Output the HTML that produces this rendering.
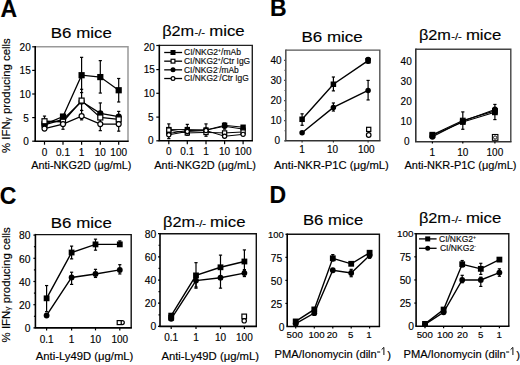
<!DOCTYPE html>
<html><head><meta charset="utf-8"><style>
html,body{margin:0;padding:0;background:#fff;}
body{width:520px;height:365px;overflow:hidden;}
svg{display:block;}
text{font-family:"Liberation Sans", sans-serif;stroke:#000;stroke-width:0.15px;}
</style></head><body>
<svg width="520" height="365" viewBox="0 0 520 365" font-family='"Liberation Sans", sans-serif' fill="#000">
<rect width="520" height="365" fill="#fff"/>
<text transform="translate(0.6,16.9) scale(1,1)" font-size="23" font-weight="bold">A</text>
<text x="270.0" y="15.8" font-size="23" text-anchor="start" font-weight="bold" >B</text>
<text x="-0.3" y="203.6" font-size="23" text-anchor="start" font-weight="bold" >C</text>
<text x="269.4" y="203.1" font-size="23" text-anchor="start" font-weight="bold" >D</text>
<text x="50.80" y="37.8" font-size="15" font-weight="normal" textLength="61.00" lengthAdjust="spacingAndGlyphs">B6 mice</text>
<text x="162.20" y="35.6" font-size="15" font-weight="normal" textLength="32.00" lengthAdjust="spacingAndGlyphs">&#946;2m</text>
<text x="194.50" y="35.6" font-size="9.6" font-weight="normal" textLength="10.60" lengthAdjust="spacingAndGlyphs">-/-</text>
<text x="209.20" y="35.6" font-size="15" font-weight="normal" textLength="35.40" lengthAdjust="spacingAndGlyphs">mice</text>
<text x="301.50" y="41.5" font-size="15" font-weight="normal" textLength="61.30" lengthAdjust="spacingAndGlyphs">B6 mice</text>
<text x="418.90" y="40.2" font-size="15" font-weight="normal" textLength="32.00" lengthAdjust="spacingAndGlyphs">&#946;2m</text>
<text x="451.20" y="40.2" font-size="9.6" font-weight="normal" textLength="10.60" lengthAdjust="spacingAndGlyphs">-/-</text>
<text x="465.90" y="40.2" font-size="15" font-weight="normal" textLength="35.40" lengthAdjust="spacingAndGlyphs">mice</text>
<text x="50.80" y="228.3" font-size="15" font-weight="normal" textLength="61.00" lengthAdjust="spacingAndGlyphs">B6 mice</text>
<text x="163.10" y="227.2" font-size="15" font-weight="normal" textLength="32.00" lengthAdjust="spacingAndGlyphs">&#946;2m</text>
<text x="195.40" y="227.2" font-size="9.6" font-weight="normal" textLength="10.60" lengthAdjust="spacingAndGlyphs">-/-</text>
<text x="210.10" y="227.2" font-size="15" font-weight="normal" textLength="35.40" lengthAdjust="spacingAndGlyphs">mice</text>
<text x="303.00" y="224.9" font-size="15" font-weight="normal" textLength="60.20" lengthAdjust="spacingAndGlyphs">B6 mice</text>
<text x="418.90" y="223.3" font-size="15" font-weight="normal" textLength="32.00" lengthAdjust="spacingAndGlyphs">&#946;2m</text>
<text x="451.20" y="223.3" font-size="9.6" font-weight="normal" textLength="10.60" lengthAdjust="spacingAndGlyphs">-/-</text>
<text x="465.90" y="223.3" font-size="15" font-weight="normal" textLength="35.40" lengthAdjust="spacingAndGlyphs">mice</text>
<text transform="translate(10.3,153.0) rotate(-90)" font-size="11" textLength="114.8" lengthAdjust="spacingAndGlyphs">% IFN<tspan font-size="8">&#947;</tspan> producing cells</text>
<text transform="translate(10.3,342.4) rotate(-90)" font-size="11" textLength="115.2" lengthAdjust="spacingAndGlyphs">% IFN<tspan font-size="8">&#947;</tspan> producing cells</text>
<polyline points="35.2,46.8 128,46.8 128,141.2" fill="none" stroke="#999" stroke-width="1.5"/>
<line x1="35.2" y1="46.099999999999994" x2="35.2" y2="141.2" stroke="#000" stroke-width="1.6"/>
<line x1="34.400000000000006" y1="141.2" x2="128.7" y2="141.2" stroke="#000" stroke-width="1.6"/>
<line x1="32.2" y1="46.8" x2="35.2" y2="46.8" stroke="#000" stroke-width="1.2"/>
<text transform="translate(30.70,50.85) scale(1.0,1)" font-size="10" text-anchor="end">20</text>
<line x1="32.2" y1="70.4" x2="35.2" y2="70.4" stroke="#000" stroke-width="1.2"/>
<text transform="translate(30.70,74.45) scale(1.0,1)" font-size="10" text-anchor="end">15</text>
<line x1="32.2" y1="94" x2="35.2" y2="94" stroke="#000" stroke-width="1.2"/>
<text transform="translate(30.70,98.05) scale(1.0,1)" font-size="10" text-anchor="end">10</text>
<line x1="32.2" y1="117.6" x2="35.2" y2="117.6" stroke="#000" stroke-width="1.2"/>
<text transform="translate(28.70,121.65) scale(1.0,1)" font-size="10" text-anchor="end">5</text>
<line x1="32.2" y1="141.2" x2="35.2" y2="141.2" stroke="#000" stroke-width="1.2"/>
<text transform="translate(28.70,145.25) scale(1.0,1)" font-size="10" text-anchor="end">0</text>
<line x1="44.5" y1="141.2" x2="44.5" y2="144.7" stroke="#000" stroke-width="1.2"/>
<text transform="translate(44.5,156.29999999999998) scale(1.0,1)" font-size="10" text-anchor="middle">0</text>
<line x1="63" y1="141.2" x2="63" y2="144.7" stroke="#000" stroke-width="1.2"/>
<text transform="translate(63,156.29999999999998) scale(1.0,1)" font-size="10" text-anchor="middle">0.1</text>
<line x1="81.6" y1="141.2" x2="81.6" y2="144.7" stroke="#000" stroke-width="1.2"/>
<text transform="translate(81.6,156.29999999999998) scale(1.0,1)" font-size="10" text-anchor="middle">1</text>
<line x1="100.3" y1="141.2" x2="100.3" y2="144.7" stroke="#000" stroke-width="1.2"/>
<text transform="translate(100.3,156.29999999999998) scale(1.0,1)" font-size="10" text-anchor="middle">10</text>
<line x1="118.7" y1="141.2" x2="118.7" y2="144.7" stroke="#000" stroke-width="1.2"/>
<text transform="translate(118.7,156.29999999999998) scale(1.0,1)" font-size="10" text-anchor="middle">100</text>
<text x="31.20" y="168.8" font-size="10.8" font-weight="normal" textLength="100.30" lengthAdjust="spacingAndGlyphs">Anti-NKG2D (&#956;g/mL)</text>
<line x1="81.6" y1="57.33999999999999" x2="81.6" y2="92.59" stroke="#000" stroke-width="1.2"/>
<line x1="80.0" y1="57.33999999999999" x2="83.19999999999999" y2="57.33999999999999" stroke="#000" stroke-width="1.2"/>
<line x1="80.0" y1="92.59" x2="83.19999999999999" y2="92.59" stroke="#000" stroke-width="1.2"/>
<line x1="100.3" y1="60.629999999999995" x2="100.3" y2="93.06" stroke="#000" stroke-width="1.2"/>
<line x1="98.7" y1="60.629999999999995" x2="101.89999999999999" y2="60.629999999999995" stroke="#000" stroke-width="1.2"/>
<line x1="98.7" y1="93.06" x2="101.89999999999999" y2="93.06" stroke="#000" stroke-width="1.2"/>
<line x1="118.7" y1="78.49" x2="118.7" y2="101.99" stroke="#000" stroke-width="1.2"/>
<line x1="117.10000000000001" y1="78.49" x2="120.3" y2="78.49" stroke="#000" stroke-width="1.2"/>
<line x1="117.10000000000001" y1="101.99" x2="120.3" y2="101.99" stroke="#000" stroke-width="1.2"/>
<line x1="44.5" y1="116.09" x2="44.5" y2="124.55" stroke="#000" stroke-width="1.2"/>
<line x1="42.9" y1="116.09" x2="46.1" y2="116.09" stroke="#000" stroke-width="1.2"/>
<line x1="42.9" y1="124.55" x2="46.1" y2="124.55" stroke="#000" stroke-width="1.2"/>
<line x1="63" y1="115.15" x2="63" y2="125.49" stroke="#000" stroke-width="1.2"/>
<line x1="61.4" y1="115.15" x2="64.6" y2="115.15" stroke="#000" stroke-width="1.2"/>
<line x1="61.4" y1="125.49" x2="64.6" y2="125.49" stroke="#000" stroke-width="1.2"/>
<line x1="81.6" y1="89.3" x2="81.6" y2="110.45" stroke="#000" stroke-width="1.2"/>
<line x1="80.0" y1="89.3" x2="83.19999999999999" y2="89.3" stroke="#000" stroke-width="1.2"/>
<line x1="80.0" y1="110.45" x2="83.19999999999999" y2="110.45" stroke="#000" stroke-width="1.2"/>
<line x1="100.3" y1="102.93" x2="100.3" y2="124.55" stroke="#000" stroke-width="1.2"/>
<line x1="98.7" y1="102.93" x2="101.89999999999999" y2="102.93" stroke="#000" stroke-width="1.2"/>
<line x1="98.7" y1="124.55" x2="101.89999999999999" y2="124.55" stroke="#000" stroke-width="1.2"/>
<line x1="118.7" y1="111.39" x2="118.7" y2="125.96" stroke="#000" stroke-width="1.2"/>
<line x1="117.10000000000001" y1="111.39" x2="120.3" y2="111.39" stroke="#000" stroke-width="1.2"/>
<line x1="117.10000000000001" y1="125.96" x2="120.3" y2="125.96" stroke="#000" stroke-width="1.2"/>
<line x1="63" y1="119.85" x2="63" y2="129.25" stroke="#000" stroke-width="1.2"/>
<line x1="61.4" y1="119.85" x2="64.6" y2="119.85" stroke="#000" stroke-width="1.2"/>
<line x1="61.4" y1="129.25" x2="64.6" y2="129.25" stroke="#000" stroke-width="1.2"/>
<line x1="100.3" y1="117.5" x2="100.3" y2="130.66" stroke="#000" stroke-width="1.2"/>
<line x1="98.7" y1="117.5" x2="101.89999999999999" y2="117.5" stroke="#000" stroke-width="1.2"/>
<line x1="98.7" y1="130.66" x2="101.89999999999999" y2="130.66" stroke="#000" stroke-width="1.2"/>
<line x1="118.7" y1="117.5" x2="118.7" y2="131.13" stroke="#000" stroke-width="1.2"/>
<line x1="117.10000000000001" y1="117.5" x2="120.3" y2="117.5" stroke="#000" stroke-width="1.2"/>
<line x1="117.10000000000001" y1="131.13" x2="120.3" y2="131.13" stroke="#000" stroke-width="1.2"/>
<line x1="81.6" y1="110.45" x2="81.6" y2="119.85" stroke="#000" stroke-width="1.2"/>
<line x1="80.0" y1="110.45" x2="83.19999999999999" y2="110.45" stroke="#000" stroke-width="1.2"/>
<line x1="80.0" y1="119.85" x2="83.19999999999999" y2="119.85" stroke="#000" stroke-width="1.2"/>
<polyline points="44.50,124.31 63.00,116.56 81.60,75.20 100.30,77.08 118.70,90.24" fill="none" stroke="#000" stroke-width="1.3"/>
<polyline points="44.50,124.78 63.00,119.38 81.60,101.52 100.30,113.27 118.70,116.56" fill="none" stroke="#000" stroke-width="1.3"/>
<polyline points="44.50,121.26 63.00,121.73 81.60,100.58 100.30,117.50 118.70,119.38" fill="none" stroke="#000" stroke-width="1.3"/>
<polyline points="44.50,128.54 63.00,124.08 81.60,116.09 100.30,124.08 118.70,124.08" fill="none" stroke="#000" stroke-width="1.3"/>
<rect x="41.40" y="121.22" width="6.20" height="6.20" fill="#000"/>
<rect x="59.90" y="113.46" width="6.20" height="6.20" fill="#000"/>
<rect x="78.50" y="72.10" width="6.20" height="6.20" fill="#000"/>
<rect x="97.20" y="73.98" width="6.20" height="6.20" fill="#000"/>
<rect x="115.60" y="87.14" width="6.20" height="6.20" fill="#000"/>
<circle cx="44.50" cy="124.78" r="3.10" fill="#000"/>
<circle cx="63.00" cy="119.38" r="3.10" fill="#000"/>
<circle cx="81.60" cy="101.52" r="3.10" fill="#000"/>
<circle cx="100.30" cy="113.27" r="3.10" fill="#000"/>
<circle cx="118.70" cy="116.56" r="3.10" fill="#000"/>
<rect x="42.00" y="118.76" width="5.00" height="5.00" fill="#fff" stroke="#000" stroke-width="1.2"/>
<rect x="60.50" y="119.23" width="5.00" height="5.00" fill="#fff" stroke="#000" stroke-width="1.2"/>
<rect x="79.10" y="98.08" width="5.00" height="5.00" fill="#fff" stroke="#000" stroke-width="1.2"/>
<rect x="97.80" y="115.00" width="5.00" height="5.00" fill="#fff" stroke="#000" stroke-width="1.2"/>
<rect x="116.20" y="116.88" width="5.00" height="5.00" fill="#fff" stroke="#000" stroke-width="1.2"/>
<circle cx="44.50" cy="128.54" r="2.50" fill="#fff" stroke="#000" stroke-width="1.2"/>
<circle cx="63.00" cy="124.08" r="2.50" fill="#fff" stroke="#000" stroke-width="1.2"/>
<circle cx="81.60" cy="116.09" r="2.50" fill="#fff" stroke="#000" stroke-width="1.2"/>
<circle cx="100.30" cy="124.08" r="2.50" fill="#fff" stroke="#000" stroke-width="1.2"/>
<circle cx="118.70" cy="124.08" r="2.50" fill="#fff" stroke="#000" stroke-width="1.2"/>
<polyline points="159.3,45.4 252.3,45.4 252.3,140.8" fill="none" stroke="#222" stroke-width="1.4"/>
<line x1="159.3" y1="44.699999999999996" x2="159.3" y2="140.8" stroke="#000" stroke-width="1.6"/>
<line x1="158.5" y1="140.8" x2="253.0" y2="140.8" stroke="#000" stroke-width="1.6"/>
<line x1="156.3" y1="45.5" x2="159.3" y2="45.5" stroke="#000" stroke-width="1.2"/>
<text transform="translate(154.80,50.95) scale(1.0,1)" font-size="10" text-anchor="end">20</text>
<line x1="156.3" y1="69.6" x2="159.3" y2="69.6" stroke="#000" stroke-width="1.2"/>
<text transform="translate(154.80,73.45) scale(1.0,1)" font-size="10" text-anchor="end">15</text>
<line x1="156.3" y1="93.3" x2="159.3" y2="93.3" stroke="#000" stroke-width="1.2"/>
<text transform="translate(154.80,97.15) scale(1.0,1)" font-size="10" text-anchor="end">10</text>
<line x1="156.3" y1="117.1" x2="159.3" y2="117.1" stroke="#000" stroke-width="1.2"/>
<text transform="translate(153.50,120.65) scale(1.0,1)" font-size="10" text-anchor="end">5</text>
<line x1="156.3" y1="140.8" x2="159.3" y2="140.8" stroke="#000" stroke-width="1.2"/>
<text transform="translate(153.50,144.05) scale(1.0,1)" font-size="10" text-anchor="end">0</text>
<line x1="168.8" y1="140.8" x2="168.8" y2="144.3" stroke="#000" stroke-width="1.2"/>
<text transform="translate(168.8,155.3) scale(1.0,1)" font-size="10" text-anchor="middle">0</text>
<line x1="187.3" y1="140.8" x2="187.3" y2="144.3" stroke="#000" stroke-width="1.2"/>
<text transform="translate(187.3,155.3) scale(1.0,1)" font-size="10" text-anchor="middle">0.1</text>
<line x1="206" y1="140.8" x2="206" y2="144.3" stroke="#000" stroke-width="1.2"/>
<text transform="translate(206,155.3) scale(1.0,1)" font-size="10" text-anchor="middle">1</text>
<line x1="224.6" y1="140.8" x2="224.6" y2="144.3" stroke="#000" stroke-width="1.2"/>
<text transform="translate(224.6,155.3) scale(1.0,1)" font-size="10" text-anchor="middle">10</text>
<line x1="243.1" y1="140.8" x2="243.1" y2="144.3" stroke="#000" stroke-width="1.2"/>
<text transform="translate(243.1,155.3) scale(1.0,1)" font-size="10" text-anchor="middle">100</text>
<text x="154.20" y="168.8" font-size="10.8" font-weight="normal" textLength="101.80" lengthAdjust="spacingAndGlyphs">Anti-NKG2D (&#956;g/mL)</text>
<line x1="168.8" y1="123.9" x2="168.8" y2="138.625" stroke="#000" stroke-width="1.2"/>
<line x1="167.20000000000002" y1="123.9" x2="170.4" y2="123.9" stroke="#000" stroke-width="1.2"/>
<line x1="167.20000000000002" y1="138.625" x2="170.4" y2="138.625" stroke="#000" stroke-width="1.2"/>
<line x1="187.3" y1="124.375" x2="187.3" y2="135.3" stroke="#000" stroke-width="1.2"/>
<line x1="185.70000000000002" y1="124.375" x2="188.9" y2="124.375" stroke="#000" stroke-width="1.2"/>
<line x1="185.70000000000002" y1="135.3" x2="188.9" y2="135.3" stroke="#000" stroke-width="1.2"/>
<line x1="206" y1="123.9" x2="206" y2="136.25" stroke="#000" stroke-width="1.2"/>
<line x1="204.4" y1="123.9" x2="207.6" y2="123.9" stroke="#000" stroke-width="1.2"/>
<line x1="204.4" y1="136.25" x2="207.6" y2="136.25" stroke="#000" stroke-width="1.2"/>
<line x1="224.6" y1="122.95" x2="224.6" y2="129.125" stroke="#000" stroke-width="1.2"/>
<line x1="223.0" y1="122.95" x2="226.2" y2="122.95" stroke="#000" stroke-width="1.2"/>
<line x1="223.0" y1="129.125" x2="226.2" y2="129.125" stroke="#000" stroke-width="1.2"/>
<line x1="243.1" y1="125.8" x2="243.1" y2="131.5" stroke="#000" stroke-width="1.2"/>
<line x1="241.5" y1="125.8" x2="244.7" y2="125.8" stroke="#000" stroke-width="1.2"/>
<line x1="241.5" y1="131.5" x2="244.7" y2="131.5" stroke="#000" stroke-width="1.2"/>
<polyline points="168.80,129.60 187.30,129.60 206.00,130.07 224.60,125.33 243.10,127.22" fill="none" stroke="#000" stroke-width="1.0"/>
<polyline points="168.80,133.40 187.30,130.55 206.00,130.07 224.60,126.28 243.10,129.12" fill="none" stroke="#000" stroke-width="1.0"/>
<polyline points="168.80,130.07 187.30,132.93 206.00,132.45 224.60,132.93 243.10,131.97" fill="none" stroke="#000" stroke-width="1.0"/>
<polyline points="168.80,134.82 187.30,131.50 206.00,130.55 224.60,136.25 243.10,134.35" fill="none" stroke="#000" stroke-width="1.0"/>
<rect x="166.10" y="126.90" width="5.40" height="5.40" fill="#000"/>
<rect x="184.60" y="126.90" width="5.40" height="5.40" fill="#000"/>
<rect x="203.30" y="127.37" width="5.40" height="5.40" fill="#000"/>
<rect x="221.90" y="122.62" width="5.40" height="5.40" fill="#000"/>
<rect x="240.40" y="124.52" width="5.40" height="5.40" fill="#000"/>
<circle cx="168.80" cy="133.40" r="2.70" fill="#000"/>
<circle cx="187.30" cy="130.55" r="2.70" fill="#000"/>
<circle cx="206.00" cy="130.07" r="2.70" fill="#000"/>
<circle cx="224.60" cy="126.28" r="2.70" fill="#000"/>
<circle cx="243.10" cy="129.12" r="2.70" fill="#000"/>
<rect x="166.70" y="127.97" width="4.20" height="4.20" fill="#fff" stroke="#000" stroke-width="1.2"/>
<rect x="185.20" y="130.83" width="4.20" height="4.20" fill="#fff" stroke="#000" stroke-width="1.2"/>
<rect x="203.90" y="130.35" width="4.20" height="4.20" fill="#fff" stroke="#000" stroke-width="1.2"/>
<rect x="222.50" y="130.83" width="4.20" height="4.20" fill="#fff" stroke="#000" stroke-width="1.2"/>
<rect x="241.00" y="129.88" width="4.20" height="4.20" fill="#fff" stroke="#000" stroke-width="1.2"/>
<circle cx="168.80" cy="134.82" r="2.10" fill="#fff" stroke="#000" stroke-width="1.2"/>
<circle cx="187.30" cy="131.50" r="2.10" fill="#fff" stroke="#000" stroke-width="1.2"/>
<circle cx="206.00" cy="130.55" r="2.10" fill="#fff" stroke="#000" stroke-width="1.2"/>
<circle cx="224.60" cy="136.25" r="2.10" fill="#fff" stroke="#000" stroke-width="1.2"/>
<circle cx="243.10" cy="134.35" r="2.10" fill="#fff" stroke="#000" stroke-width="1.2"/>
<line x1="164.2" y1="52.50" x2="182.1" y2="52.50" stroke="#000" stroke-width="1.3"/>
<rect x="170.50" y="50.00" width="5.00" height="5.00" fill="#000"/>
<text x="184.0" y="55.30" font-size="8.4" fill="#111" textLength="57.0" lengthAdjust="spacingAndGlyphs">CI/NKG2<tspan font-size="5" dy="-3">+</tspan><tspan dy="3">/mAb</tspan></text>
<line x1="164.2" y1="61.17" x2="182.1" y2="61.17" stroke="#000" stroke-width="1.3"/>
<rect x="171.10" y="59.27" width="3.80" height="3.80" fill="#fff" stroke="#000" stroke-width="1.2"/>
<text x="184.0" y="63.97" font-size="8.4" fill="#111" textLength="66.2" lengthAdjust="spacingAndGlyphs">CI/NKG2<tspan font-size="5" dy="-3">+</tspan><tspan dy="3">/Ctr IgG</tspan></text>
<line x1="164.2" y1="69.84" x2="182.1" y2="69.84" stroke="#000" stroke-width="1.3"/>
<circle cx="173.00" cy="69.84" r="2.50" fill="#000"/>
<text x="184.0" y="72.64" font-size="8.4" fill="#111" textLength="54.8" lengthAdjust="spacingAndGlyphs">CI/NKG2<tspan font-size="5" dy="-3">-</tspan><tspan dy="3">/mAb</tspan></text>
<line x1="164.2" y1="78.51" x2="182.1" y2="78.51" stroke="#000" stroke-width="1.3"/>
<circle cx="173.00" cy="78.51" r="1.90" fill="#fff" stroke="#000" stroke-width="1.2"/>
<text x="184.0" y="81.31" font-size="8.4" fill="#111" textLength="64.8" lengthAdjust="spacingAndGlyphs">CI/NKG2<tspan font-size="5" dy="-3">-</tspan><tspan dy="3">/Ctr IgG</tspan></text>
<polyline points="285.8,50.1 379.8,50.1 379.8,140.8" fill="none" stroke="#555" stroke-width="1.4"/>
<line x1="285.8" y1="49.4" x2="285.8" y2="140.8" stroke="#555" stroke-width="1.6"/>
<line x1="285.0" y1="140.8" x2="380.5" y2="140.8" stroke="#333" stroke-width="1.6"/>
<line x1="284.0" y1="60.30000000000001" x2="285.8" y2="60.30000000000001" stroke="#555" stroke-width="1.2"/>
<text transform="translate(281.50,63.85) scale(1.0,1)" font-size="10" text-anchor="end">40</text>
<line x1="284.0" y1="80.42500000000001" x2="285.8" y2="80.42500000000001" stroke="#555" stroke-width="1.2"/>
<text transform="translate(281.50,83.98) scale(1.0,1)" font-size="10" text-anchor="end">30</text>
<line x1="284.0" y1="100.55000000000001" x2="285.8" y2="100.55000000000001" stroke="#555" stroke-width="1.2"/>
<text transform="translate(281.50,104.10) scale(1.0,1)" font-size="10" text-anchor="end">20</text>
<line x1="284.0" y1="120.67500000000001" x2="285.8" y2="120.67500000000001" stroke="#555" stroke-width="1.2"/>
<text transform="translate(281.50,124.23) scale(1.0,1)" font-size="10" text-anchor="end">10</text>
<line x1="284.0" y1="140.8" x2="285.8" y2="140.8" stroke="#555" stroke-width="1.2"/>
<text transform="translate(280.10,144.35) scale(1.0,1)" font-size="10" text-anchor="end">0</text>
<line x1="284.5" y1="130.7375" x2="285.8" y2="130.7375" stroke="#555" stroke-width="1.2"/>
<line x1="284.5" y1="110.61250000000001" x2="285.8" y2="110.61250000000001" stroke="#555" stroke-width="1.2"/>
<line x1="284.5" y1="90.48750000000001" x2="285.8" y2="90.48750000000001" stroke="#555" stroke-width="1.2"/>
<line x1="284.5" y1="70.36250000000001" x2="285.8" y2="70.36250000000001" stroke="#555" stroke-width="1.2"/>
<line x1="302.1" y1="140.8" x2="302.1" y2="142.60000000000002" stroke="#333" stroke-width="1.2"/>
<text transform="translate(302.1,153.4) scale(1.0,1)" font-size="10" text-anchor="middle">1</text>
<line x1="333.4" y1="140.8" x2="333.4" y2="142.60000000000002" stroke="#333" stroke-width="1.2"/>
<text transform="translate(332.5,153.4) scale(1.0,1)" font-size="10" text-anchor="middle">10</text>
<line x1="368.1" y1="140.8" x2="368.1" y2="142.60000000000002" stroke="#333" stroke-width="1.2"/>
<text transform="translate(366.3,153.4) scale(1.0,1)" font-size="10" text-anchor="middle">100</text>
<text x="274.10" y="169.3" font-size="10.8" font-weight="normal" textLength="114.70" lengthAdjust="spacingAndGlyphs">Anti-NKR-P1C (&#956;g/mL)</text>
<line x1="302.1" y1="113.83250000000001" x2="302.1" y2="125.30375000000001" stroke="#000" stroke-width="1.2"/>
<line x1="300.5" y1="113.83250000000001" x2="303.70000000000005" y2="113.83250000000001" stroke="#000" stroke-width="1.2"/>
<line x1="300.5" y1="125.30375000000001" x2="303.70000000000005" y2="125.30375000000001" stroke="#000" stroke-width="1.2"/>
<line x1="333.4" y1="77.00375" x2="333.4" y2="90.89000000000001" stroke="#000" stroke-width="1.2"/>
<line x1="331.79999999999995" y1="77.00375" x2="335.0" y2="77.00375" stroke="#000" stroke-width="1.2"/>
<line x1="331.79999999999995" y1="90.89000000000001" x2="335.0" y2="90.89000000000001" stroke="#000" stroke-width="1.2"/>
<line x1="333.4" y1="102.965" x2="333.4" y2="111.01500000000001" stroke="#000" stroke-width="1.2"/>
<line x1="331.79999999999995" y1="102.965" x2="335.0" y2="102.965" stroke="#000" stroke-width="1.2"/>
<line x1="331.79999999999995" y1="111.01500000000001" x2="335.0" y2="111.01500000000001" stroke="#000" stroke-width="1.2"/>
<line x1="368.1" y1="80.42500000000001" x2="368.1" y2="99.94625" stroke="#000" stroke-width="1.2"/>
<line x1="366.5" y1="80.42500000000001" x2="369.70000000000005" y2="80.42500000000001" stroke="#000" stroke-width="1.2"/>
<line x1="366.5" y1="99.94625" x2="369.70000000000005" y2="99.94625" stroke="#000" stroke-width="1.2"/>
<line x1="368.1" y1="57.885000000000005" x2="368.1" y2="63.31875000000001" stroke="#000" stroke-width="1.2"/>
<line x1="366.5" y1="57.885000000000005" x2="369.70000000000005" y2="57.885000000000005" stroke="#000" stroke-width="1.2"/>
<line x1="366.5" y1="63.31875000000001" x2="369.70000000000005" y2="63.31875000000001" stroke="#000" stroke-width="1.2"/>
<polyline points="302.10,119.27 333.40,84.25 368.10,60.70" fill="none" stroke="#000" stroke-width="1.4"/>
<polyline points="302.10,132.75 333.40,107.39 368.10,90.49" fill="none" stroke="#000" stroke-width="1.4"/>
<rect x="299.35" y="116.52" width="5.50" height="5.50" fill="#000"/>
<rect x="330.65" y="81.50" width="5.50" height="5.50" fill="#000"/>
<rect x="365.35" y="57.95" width="5.50" height="5.50" fill="#000"/>
<circle cx="302.10" cy="132.75" r="2.75" fill="#000"/>
<circle cx="333.40" cy="107.39" r="2.75" fill="#000"/>
<circle cx="368.10" cy="90.49" r="2.75" fill="#000"/>
<circle cx="368.10" cy="59.50" r="2.75" fill="#000"/>
<circle cx="368.70" cy="135.00" r="2.30" fill="#fff" stroke="#000" stroke-width="1.2"/>
<rect x="366.60" y="127.30" width="4.20" height="4.20" fill="#fff" stroke="#000" stroke-width="1.2"/>
<polyline points="415.8,49.2 510.8,49.2 510.8,141.8" fill="none" stroke="#444" stroke-width="1.4"/>
<line x1="415.8" y1="48.5" x2="415.8" y2="141.8" stroke="#333" stroke-width="1.6"/>
<line x1="415.0" y1="141.8" x2="511.5" y2="141.8" stroke="#333" stroke-width="1.6"/>
<text transform="translate(411.70,64.55) scale(1.0,1)" font-size="10" text-anchor="end">40</text>
<text transform="translate(411.70,84.75) scale(1.0,1)" font-size="10" text-anchor="end">30</text>
<text transform="translate(411.70,104.95) scale(1.0,1)" font-size="10" text-anchor="end">20</text>
<text transform="translate(411.70,125.15) scale(1.0,1)" font-size="10" text-anchor="end">10</text>
<text transform="translate(409.50,145.35) scale(1.0,1)" font-size="10" text-anchor="end">0</text>
<line x1="432.4" y1="141.8" x2="432.4" y2="143.60000000000002" stroke="#000" stroke-width="1.2"/>
<text transform="translate(432.4,156.4) scale(1.0,1)" font-size="10" text-anchor="middle">1</text>
<line x1="462.8" y1="141.8" x2="462.8" y2="143.60000000000002" stroke="#000" stroke-width="1.2"/>
<text transform="translate(462.8,156.4) scale(1.0,1)" font-size="10" text-anchor="middle">10</text>
<line x1="494.9" y1="141.8" x2="494.9" y2="143.60000000000002" stroke="#000" stroke-width="1.2"/>
<text transform="translate(494.9,156.4) scale(1.0,1)" font-size="10" text-anchor="middle">100</text>
<text x="404.50" y="169.3" font-size="10.8" font-weight="normal" textLength="111.90" lengthAdjust="spacingAndGlyphs">Anti-NKR-P1C (&#956;g/mL)</text>
<line x1="462.8" y1="111.90400000000001" x2="462.8" y2="129.276" stroke="#000" stroke-width="1.2"/>
<line x1="461.2" y1="111.90400000000001" x2="464.40000000000003" y2="111.90400000000001" stroke="#000" stroke-width="1.2"/>
<line x1="461.2" y1="129.276" x2="464.40000000000003" y2="129.276" stroke="#000" stroke-width="1.2"/>
<line x1="494.9" y1="104.43" x2="494.9" y2="119.58000000000001" stroke="#000" stroke-width="1.2"/>
<line x1="493.29999999999995" y1="104.43" x2="496.5" y2="104.43" stroke="#000" stroke-width="1.2"/>
<line x1="493.29999999999995" y1="119.58000000000001" x2="496.5" y2="119.58000000000001" stroke="#000" stroke-width="1.2"/>
<polyline points="432.40,134.73 462.80,120.59 494.90,110.89" fill="none" stroke="#000" stroke-width="1.1"/>
<polyline points="432.40,136.75 462.80,121.20 494.90,109.48" fill="none" stroke="#000" stroke-width="1.1"/>
<polyline points="432.40,135.34 462.80,122.00 494.90,112.31" fill="none" stroke="#000" stroke-width="1.1"/>
<rect x="430.10" y="132.43" width="4.60" height="4.60" fill="#fff" stroke="#000" stroke-width="1.2"/>
<rect x="460.50" y="118.29" width="4.60" height="4.60" fill="#fff" stroke="#000" stroke-width="1.2"/>
<rect x="492.60" y="108.59" width="4.60" height="4.60" fill="#fff" stroke="#000" stroke-width="1.2"/>
<circle cx="432.40" cy="136.75" r="2.90" fill="#000"/>
<circle cx="462.80" cy="121.20" r="2.90" fill="#000"/>
<circle cx="494.90" cy="109.48" r="2.90" fill="#000"/>
<rect x="429.50" y="132.44" width="5.80" height="5.80" fill="#000"/>
<rect x="459.90" y="119.10" width="5.80" height="5.80" fill="#000"/>
<rect x="492.00" y="109.41" width="5.80" height="5.80" fill="#000"/>
<rect x="492.4" y="134.5" width="5.5" height="5.8" fill="#fff" stroke="#000" stroke-width="1.1"/>
<circle cx="495.1" cy="137.5" r="1.6" fill="#fff" stroke="#000" stroke-width="0.9"/>
<polyline points="35.4,234.6 131.2,234.6 131.2,327.9" fill="none" stroke="#111" stroke-width="1.4"/>
<line x1="35.4" y1="233.9" x2="35.4" y2="327.9" stroke="#000" stroke-width="1.6"/>
<line x1="34.6" y1="327.9" x2="131.89999999999998" y2="327.9" stroke="#000" stroke-width="1.6"/>
<line x1="33.4" y1="235.09999999999997" x2="35.4" y2="235.09999999999997" stroke="#000" stroke-width="1.2"/>
<text transform="translate(30.50,239.36) scale(1.0,1)" font-size="10.3" text-anchor="end">80</text>
<line x1="33.4" y1="258.29999999999995" x2="35.4" y2="258.29999999999995" stroke="#000" stroke-width="1.2"/>
<text transform="translate(30.50,262.56) scale(1.0,1)" font-size="10.3" text-anchor="end">60</text>
<line x1="33.4" y1="281.5" x2="35.4" y2="281.5" stroke="#000" stroke-width="1.2"/>
<text transform="translate(30.50,285.76) scale(1.0,1)" font-size="10.3" text-anchor="end">40</text>
<line x1="33.4" y1="304.7" x2="35.4" y2="304.7" stroke="#000" stroke-width="1.2"/>
<text transform="translate(30.50,308.96) scale(1.0,1)" font-size="10.3" text-anchor="end">20</text>
<line x1="33.4" y1="327.9" x2="35.4" y2="327.9" stroke="#000" stroke-width="1.2"/>
<text transform="translate(30.50,332.16) scale(1.0,1)" font-size="10.3" text-anchor="end">0</text>
<line x1="33.9" y1="316.29999999999995" x2="35.4" y2="316.29999999999995" stroke="#000" stroke-width="1.2"/>
<line x1="33.9" y1="293.09999999999997" x2="35.4" y2="293.09999999999997" stroke="#000" stroke-width="1.2"/>
<line x1="33.9" y1="269.9" x2="35.4" y2="269.9" stroke="#000" stroke-width="1.2"/>
<line x1="33.9" y1="246.7" x2="35.4" y2="246.7" stroke="#000" stroke-width="1.2"/>
<line x1="46.6" y1="327.9" x2="46.6" y2="330.4" stroke="#000" stroke-width="1.2"/>
<text transform="translate(46.6,342.5) scale(1.0,1)" font-size="10" text-anchor="middle">0.1</text>
<line x1="71.6" y1="327.9" x2="71.6" y2="330.4" stroke="#000" stroke-width="1.2"/>
<text transform="translate(71.6,342.5) scale(1.0,1)" font-size="10" text-anchor="middle">1</text>
<line x1="95.5" y1="327.9" x2="95.5" y2="330.4" stroke="#000" stroke-width="1.2"/>
<text transform="translate(95.5,342.5) scale(1.0,1)" font-size="10" text-anchor="middle">10</text>
<line x1="119.8" y1="327.9" x2="119.8" y2="330.4" stroke="#000" stroke-width="1.2"/>
<text transform="translate(119.8,342.5) scale(1.0,1)" font-size="10" text-anchor="middle">100</text>
<text x="35.80" y="360" font-size="10.8" font-weight="normal" textLength="97.50" lengthAdjust="spacingAndGlyphs">Anti-Ly49D (&#956;g/mL)</text>
<line x1="46.6" y1="285.56" x2="46.6" y2="311.65999999999997" stroke="#000" stroke-width="1.2"/>
<line x1="45.0" y1="285.56" x2="48.2" y2="285.56" stroke="#000" stroke-width="1.2"/>
<line x1="45.0" y1="311.65999999999997" x2="48.2" y2="311.65999999999997" stroke="#000" stroke-width="1.2"/>
<line x1="71.6" y1="246.11999999999998" x2="71.6" y2="258.88" stroke="#000" stroke-width="1.2"/>
<line x1="70.0" y1="246.11999999999998" x2="73.19999999999999" y2="246.11999999999998" stroke="#000" stroke-width="1.2"/>
<line x1="70.0" y1="258.88" x2="73.19999999999999" y2="258.88" stroke="#000" stroke-width="1.2"/>
<line x1="95.5" y1="239.15999999999997" x2="95.5" y2="250.17999999999998" stroke="#000" stroke-width="1.2"/>
<line x1="93.9" y1="239.15999999999997" x2="97.1" y2="239.15999999999997" stroke="#000" stroke-width="1.2"/>
<line x1="93.9" y1="250.17999999999998" x2="97.1" y2="250.17999999999998" stroke="#000" stroke-width="1.2"/>
<line x1="119.8" y1="240.89999999999998" x2="119.8" y2="246.11999999999998" stroke="#000" stroke-width="1.2"/>
<line x1="118.2" y1="240.89999999999998" x2="121.39999999999999" y2="240.89999999999998" stroke="#000" stroke-width="1.2"/>
<line x1="118.2" y1="246.11999999999998" x2="121.39999999999999" y2="246.11999999999998" stroke="#000" stroke-width="1.2"/>
<line x1="71.6" y1="272.21999999999997" x2="71.6" y2="284.4" stroke="#000" stroke-width="1.2"/>
<line x1="70.0" y1="272.21999999999997" x2="73.19999999999999" y2="272.21999999999997" stroke="#000" stroke-width="1.2"/>
<line x1="70.0" y1="284.4" x2="73.19999999999999" y2="284.4" stroke="#000" stroke-width="1.2"/>
<line x1="95.5" y1="269.32" x2="95.5" y2="277.44" stroke="#000" stroke-width="1.2"/>
<line x1="93.9" y1="269.32" x2="97.1" y2="269.32" stroke="#000" stroke-width="1.2"/>
<line x1="93.9" y1="277.44" x2="97.1" y2="277.44" stroke="#000" stroke-width="1.2"/>
<line x1="119.8" y1="264.67999999999995" x2="119.8" y2="273.96" stroke="#000" stroke-width="1.2"/>
<line x1="118.2" y1="264.67999999999995" x2="121.39999999999999" y2="264.67999999999995" stroke="#000" stroke-width="1.2"/>
<line x1="118.2" y1="273.96" x2="121.39999999999999" y2="273.96" stroke="#000" stroke-width="1.2"/>
<polyline points="46.60,298.32 71.60,252.50 95.50,244.38 119.80,244.38" fill="none" stroke="#000" stroke-width="1.4"/>
<polyline points="46.60,315.49 71.60,277.44 95.50,273.96 119.80,269.90" fill="none" stroke="#000" stroke-width="1.4"/>
<rect x="43.70" y="295.42" width="5.80" height="5.80" fill="#000"/>
<rect x="68.70" y="249.60" width="5.80" height="5.80" fill="#000"/>
<rect x="92.60" y="241.48" width="5.80" height="5.80" fill="#000"/>
<rect x="116.90" y="241.48" width="5.80" height="5.80" fill="#000"/>
<circle cx="46.60" cy="315.49" r="2.90" fill="#000"/>
<circle cx="71.60" cy="277.44" r="2.90" fill="#000"/>
<circle cx="95.50" cy="273.96" r="2.90" fill="#000"/>
<circle cx="119.80" cy="269.90" r="2.90" fill="#000"/>
<circle cx="122.30" cy="322.60" r="2.00" fill="#fff" stroke="#000" stroke-width="1.2"/>
<rect x="117.20" y="320.60" width="4.00" height="4.00" fill="#fff" stroke="#000" stroke-width="1.2"/>
<polyline points="160,233.7 256.3,233.7 256.3,326.4" fill="none" stroke="#111" stroke-width="1.4"/>
<line x1="160" y1="233.0" x2="160" y2="326.4" stroke="#000" stroke-width="1.6"/>
<line x1="159.2" y1="326.4" x2="257.0" y2="326.4" stroke="#000" stroke-width="1.6"/>
<line x1="158" y1="233.67999999999998" x2="160" y2="233.67999999999998" stroke="#000" stroke-width="1.2"/>
<text transform="translate(156.30,237.74) scale(1.0,1)" font-size="10.3" text-anchor="end">80</text>
<line x1="158" y1="256.85999999999996" x2="160" y2="256.85999999999996" stroke="#000" stroke-width="1.2"/>
<text transform="translate(156.30,260.92) scale(1.0,1)" font-size="10.3" text-anchor="end">60</text>
<line x1="158" y1="280.03999999999996" x2="160" y2="280.03999999999996" stroke="#000" stroke-width="1.2"/>
<text transform="translate(156.30,284.10) scale(1.0,1)" font-size="10.3" text-anchor="end">40</text>
<line x1="158" y1="303.21999999999997" x2="160" y2="303.21999999999997" stroke="#000" stroke-width="1.2"/>
<text transform="translate(156.30,307.28) scale(1.0,1)" font-size="10.3" text-anchor="end">20</text>
<line x1="158" y1="326.4" x2="160" y2="326.4" stroke="#000" stroke-width="1.2"/>
<text transform="translate(156.30,330.46) scale(1.0,1)" font-size="10.3" text-anchor="end">0</text>
<line x1="158.5" y1="314.81" x2="160" y2="314.81" stroke="#000" stroke-width="1.2"/>
<line x1="158.5" y1="291.63" x2="160" y2="291.63" stroke="#000" stroke-width="1.2"/>
<line x1="158.5" y1="268.45" x2="160" y2="268.45" stroke="#000" stroke-width="1.2"/>
<line x1="158.5" y1="245.26999999999998" x2="160" y2="245.26999999999998" stroke="#000" stroke-width="1.2"/>
<line x1="171.2" y1="326.4" x2="171.2" y2="328.9" stroke="#000" stroke-width="1.2"/>
<text transform="translate(171.2,341.4) scale(1.0,1)" font-size="10" text-anchor="middle">0.1</text>
<line x1="196" y1="326.4" x2="196" y2="328.9" stroke="#000" stroke-width="1.2"/>
<text transform="translate(196,341.4) scale(1.0,1)" font-size="10" text-anchor="middle">1</text>
<line x1="220.5" y1="326.4" x2="220.5" y2="328.9" stroke="#000" stroke-width="1.2"/>
<text transform="translate(220.5,341.4) scale(1.0,1)" font-size="10" text-anchor="middle">10</text>
<line x1="244.4" y1="326.4" x2="244.4" y2="328.9" stroke="#000" stroke-width="1.2"/>
<text transform="translate(244.4,341.4) scale(1.0,1)" font-size="10" text-anchor="middle">100</text>
<text x="161.40" y="359.6" font-size="10.8" font-weight="normal" textLength="97.60" lengthAdjust="spacingAndGlyphs">Anti-Ly49D (&#956;g/mL)</text>
<line x1="196" y1="262.655" x2="196" y2="286.99399999999997" stroke="#000" stroke-width="1.2"/>
<line x1="194.4" y1="262.655" x2="197.6" y2="262.655" stroke="#000" stroke-width="1.2"/>
<line x1="194.4" y1="286.99399999999997" x2="197.6" y2="286.99399999999997" stroke="#000" stroke-width="1.2"/>
<line x1="220.5" y1="255.12149999999997" x2="220.5" y2="288.15299999999996" stroke="#000" stroke-width="1.2"/>
<line x1="218.9" y1="255.12149999999997" x2="222.1" y2="255.12149999999997" stroke="#000" stroke-width="1.2"/>
<line x1="218.9" y1="288.15299999999996" x2="222.1" y2="288.15299999999996" stroke="#000" stroke-width="1.2"/>
<line x1="244.4" y1="249.90599999999998" x2="244.4" y2="270.768" stroke="#000" stroke-width="1.2"/>
<line x1="242.8" y1="249.90599999999998" x2="246.0" y2="249.90599999999998" stroke="#000" stroke-width="1.2"/>
<line x1="242.8" y1="270.768" x2="246.0" y2="270.768" stroke="#000" stroke-width="1.2"/>
<line x1="196" y1="275.404" x2="196" y2="288.15299999999996" stroke="#000" stroke-width="1.2"/>
<line x1="194.4" y1="275.404" x2="197.6" y2="275.404" stroke="#000" stroke-width="1.2"/>
<line x1="194.4" y1="288.15299999999996" x2="197.6" y2="288.15299999999996" stroke="#000" stroke-width="1.2"/>
<line x1="244.4" y1="269.609" x2="244.4" y2="276.563" stroke="#000" stroke-width="1.2"/>
<line x1="242.8" y1="269.609" x2="246.0" y2="269.609" stroke="#000" stroke-width="1.2"/>
<line x1="242.8" y1="276.563" x2="246.0" y2="276.563" stroke="#000" stroke-width="1.2"/>
<polyline points="171.20,315.62 196.00,275.40 220.50,267.29 244.40,261.50" fill="none" stroke="#000" stroke-width="1.4"/>
<polyline points="171.20,318.87 196.00,280.62 220.50,277.72 244.40,273.09" fill="none" stroke="#000" stroke-width="1.4"/>
<rect x="168.30" y="312.72" width="5.80" height="5.80" fill="#000"/>
<rect x="193.10" y="272.50" width="5.80" height="5.80" fill="#000"/>
<rect x="217.60" y="264.39" width="5.80" height="5.80" fill="#000"/>
<rect x="241.50" y="258.60" width="5.80" height="5.80" fill="#000"/>
<circle cx="171.20" cy="318.87" r="2.90" fill="#000"/>
<circle cx="196.00" cy="280.62" r="2.90" fill="#000"/>
<circle cx="220.50" cy="277.72" r="2.90" fill="#000"/>
<circle cx="244.40" cy="273.09" r="2.90" fill="#000"/>
<rect x="168.30" y="314.81" width="5.80" height="5.80" fill="#000"/>
<rect x="241.90" y="314.10" width="4.60" height="4.60" fill="#fff" stroke="#000" stroke-width="1.2"/>
<circle cx="244.20" cy="320.80" r="2.20" fill="#fff" stroke="#000" stroke-width="1.2"/>
<polyline points="287.2,234.3 379.4,234.3 379.4,326.5" fill="none" stroke="#111" stroke-width="1.4"/>
<line x1="287.2" y1="233.60000000000002" x2="287.2" y2="326.5" stroke="#000" stroke-width="1.6"/>
<line x1="286.4" y1="326.5" x2="380.09999999999997" y2="326.5" stroke="#000" stroke-width="1.6"/>
<line x1="285.4" y1="257.35" x2="287.2" y2="257.35" stroke="#000" stroke-width="1.2"/>
<text transform="translate(282.20,261.81) scale(1.0,1)" font-size="10.3" text-anchor="end">75</text>
<line x1="285.4" y1="280.4" x2="287.2" y2="280.4" stroke="#000" stroke-width="1.2"/>
<text transform="translate(282.20,284.86) scale(1.0,1)" font-size="10.3" text-anchor="end">50</text>
<line x1="285.4" y1="303.45" x2="287.2" y2="303.45" stroke="#000" stroke-width="1.2"/>
<text transform="translate(282.20,307.91) scale(1.0,1)" font-size="10.3" text-anchor="end">25</text>
<line x1="285.4" y1="234.3" x2="287.2" y2="234.3" stroke="#000" stroke-width="1.2"/>
<text transform="translate(283.70,237.94) scale(1.0,1)" font-size="9.4" text-anchor="end">100</text>
<text transform="translate(284.40,331.36) scale(1.0,1)" font-size="10.3" text-anchor="end">0</text>
<line x1="295.7" y1="326.5" x2="295.7" y2="328.5" stroke="#000" stroke-width="1.2"/>
<text transform="translate(294.7,338.3) scale(1.0,1)" font-size="9.7" text-anchor="middle">500</text>
<line x1="314.3" y1="326.5" x2="314.3" y2="328.5" stroke="#000" stroke-width="1.2"/>
<text transform="translate(316.5,338.3) scale(1.0,1)" font-size="9.7" text-anchor="middle">100</text>
<line x1="332.8" y1="326.5" x2="332.8" y2="328.5" stroke="#000" stroke-width="1.2"/>
<text transform="translate(332.1,338.3) scale(1.0,1)" font-size="9.7" text-anchor="middle">20</text>
<line x1="351.2" y1="326.5" x2="351.2" y2="328.5" stroke="#000" stroke-width="1.2"/>
<text transform="translate(350.59999999999997,338.3) scale(1.0,1)" font-size="9.7" text-anchor="middle">5</text>
<line x1="369.6" y1="326.5" x2="369.6" y2="328.5" stroke="#000" stroke-width="1.2"/>
<text transform="translate(369.0,338.3) scale(1.0,1)" font-size="9.7" text-anchor="middle">1</text>
<text x="274.50" y="358.3" font-size="10.8" font-weight="normal" textLength="102.30" lengthAdjust="spacingAndGlyphs">PMA/Ionomycin (diln</text>
<line x1="377.1" y1="352.0" x2="380.2" y2="352.0" stroke="#000" stroke-width="1.0"/>
<path d="M381.6,349.6 L383.9,347.4 L383.9,355.0" fill="none" stroke="#000" stroke-width="0.95"/>
<text x="387.20" y="359.2" font-size="10.8" font-weight="normal" textLength="3.80" lengthAdjust="spacingAndGlyphs">)</text>
<line x1="332.8" y1="254.584" x2="332.8" y2="261.038" stroke="#000" stroke-width="1.2"/>
<line x1="331.2" y1="254.584" x2="334.40000000000003" y2="254.584" stroke="#000" stroke-width="1.2"/>
<line x1="331.2" y1="261.038" x2="334.40000000000003" y2="261.038" stroke="#000" stroke-width="1.2"/>
<line x1="351.2" y1="269.336" x2="351.2" y2="276.712" stroke="#000" stroke-width="1.2"/>
<line x1="349.59999999999997" y1="269.336" x2="352.8" y2="269.336" stroke="#000" stroke-width="1.2"/>
<line x1="349.59999999999997" y1="276.712" x2="352.8" y2="276.712" stroke="#000" stroke-width="1.2"/>
<line x1="369.6" y1="252.74" x2="369.6" y2="258.272" stroke="#000" stroke-width="1.2"/>
<line x1="368.0" y1="252.74" x2="371.20000000000005" y2="252.74" stroke="#000" stroke-width="1.2"/>
<line x1="368.0" y1="258.272" x2="371.20000000000005" y2="258.272" stroke="#000" stroke-width="1.2"/>
<polyline points="295.70,321.43 314.30,309.44 332.80,258.27 351.20,263.80 369.60,252.74" fill="none" stroke="#000" stroke-width="1.4"/>
<polyline points="295.70,323.73 314.30,313.13 332.80,270.26 351.20,273.02 369.60,255.51" fill="none" stroke="#000" stroke-width="1.4"/>
<rect x="292.80" y="318.53" width="5.80" height="5.80" fill="#000"/>
<rect x="311.40" y="306.54" width="5.80" height="5.80" fill="#000"/>
<rect x="329.90" y="255.37" width="5.80" height="5.80" fill="#000"/>
<rect x="348.30" y="260.90" width="5.80" height="5.80" fill="#000"/>
<rect x="366.70" y="249.84" width="5.80" height="5.80" fill="#000"/>
<circle cx="295.70" cy="323.73" r="2.90" fill="#000"/>
<circle cx="314.30" cy="313.13" r="2.90" fill="#000"/>
<circle cx="332.80" cy="270.26" r="2.90" fill="#000"/>
<circle cx="351.20" cy="273.02" r="2.90" fill="#000"/>
<circle cx="369.60" cy="255.51" r="2.90" fill="#000"/>
<polyline points="416.1,233.7 508.8,233.7 508.8,326.2" fill="none" stroke="#111" stroke-width="1.4"/>
<line x1="416.1" y1="233.0" x2="416.1" y2="326.2" stroke="#000" stroke-width="1.6"/>
<line x1="415.3" y1="326.2" x2="509.5" y2="326.2" stroke="#000" stroke-width="1.6"/>
<line x1="414.3" y1="256.825" x2="416.1" y2="256.825" stroke="#000" stroke-width="1.2"/>
<text transform="translate(411.10,260.98) scale(1.0,1)" font-size="10.3" text-anchor="end">75</text>
<line x1="414.3" y1="279.95" x2="416.1" y2="279.95" stroke="#000" stroke-width="1.2"/>
<text transform="translate(411.10,284.11) scale(1.0,1)" font-size="10.3" text-anchor="end">50</text>
<line x1="414.3" y1="303.075" x2="416.1" y2="303.075" stroke="#000" stroke-width="1.2"/>
<text transform="translate(411.10,307.23) scale(1.0,1)" font-size="10.3" text-anchor="end">25</text>
<line x1="414.3" y1="233.7" x2="416.1" y2="233.7" stroke="#000" stroke-width="1.2"/>
<text transform="translate(413.40,236.61) scale(1.0,1)" font-size="9.9" text-anchor="end">100</text>
<text transform="translate(414.10,330.36) scale(1.0,1)" font-size="10.3" text-anchor="end">0</text>
<line x1="425" y1="326.2" x2="425" y2="328.2" stroke="#000" stroke-width="1.2"/>
<text transform="translate(424.8,338.0) scale(1.0,1)" font-size="9.7" text-anchor="middle">500</text>
<line x1="443.6" y1="326.2" x2="443.6" y2="328.2" stroke="#000" stroke-width="1.2"/>
<text transform="translate(445.1,338.0) scale(1.0,1)" font-size="9.7" text-anchor="middle">100</text>
<line x1="462.2" y1="326.2" x2="462.2" y2="328.2" stroke="#000" stroke-width="1.2"/>
<text transform="translate(462.5,338.0) scale(1.0,1)" font-size="9.7" text-anchor="middle">20</text>
<line x1="480.8" y1="326.2" x2="480.8" y2="328.2" stroke="#000" stroke-width="1.2"/>
<text transform="translate(480.8,338.0) scale(1.0,1)" font-size="9.7" text-anchor="middle">5</text>
<line x1="499.4" y1="326.2" x2="499.4" y2="328.2" stroke="#000" stroke-width="1.2"/>
<text transform="translate(499.09999999999997,338.0) scale(1.0,1)" font-size="9.7" text-anchor="middle">1</text>
<text x="403.50" y="358.3" font-size="10.8" font-weight="normal" textLength="102.30" lengthAdjust="spacingAndGlyphs">PMA/Ionomycin (diln</text>
<line x1="506.1" y1="352.0" x2="509.2" y2="352.0" stroke="#000" stroke-width="1.0"/>
<path d="M510.6,349.6 L512.9,347.4 L512.9,355.0" fill="none" stroke="#000" stroke-width="0.95"/>
<text x="516.20" y="359.2" font-size="10.8" font-weight="normal" textLength="3.80" lengthAdjust="spacingAndGlyphs">)</text>
<line x1="462.2" y1="260.525" x2="462.2" y2="267.0" stroke="#000" stroke-width="1.2"/>
<line x1="460.59999999999997" y1="260.525" x2="463.8" y2="260.525" stroke="#000" stroke-width="1.2"/>
<line x1="460.59999999999997" y1="267.0" x2="463.8" y2="267.0" stroke="#000" stroke-width="1.2"/>
<line x1="480.8" y1="263.29999999999995" x2="480.8" y2="274.4" stroke="#000" stroke-width="1.2"/>
<line x1="479.2" y1="263.29999999999995" x2="482.40000000000003" y2="263.29999999999995" stroke="#000" stroke-width="1.2"/>
<line x1="479.2" y1="274.4" x2="482.40000000000003" y2="274.4" stroke="#000" stroke-width="1.2"/>
<line x1="480.8" y1="277.17499999999995" x2="480.8" y2="286.425" stroke="#000" stroke-width="1.2"/>
<line x1="479.2" y1="277.17499999999995" x2="482.40000000000003" y2="277.17499999999995" stroke="#000" stroke-width="1.2"/>
<line x1="479.2" y1="286.425" x2="482.40000000000003" y2="286.425" stroke="#000" stroke-width="1.2"/>
<line x1="462.2" y1="275.325" x2="462.2" y2="282.72499999999997" stroke="#000" stroke-width="1.2"/>
<line x1="460.59999999999997" y1="275.325" x2="463.8" y2="275.325" stroke="#000" stroke-width="1.2"/>
<line x1="460.59999999999997" y1="282.72499999999997" x2="463.8" y2="282.72499999999997" stroke="#000" stroke-width="1.2"/>
<line x1="499.4" y1="268.84999999999997" x2="499.4" y2="276.25" stroke="#000" stroke-width="1.2"/>
<line x1="497.79999999999995" y1="268.84999999999997" x2="501.0" y2="268.84999999999997" stroke="#000" stroke-width="1.2"/>
<line x1="497.79999999999995" y1="276.25" x2="501.0" y2="276.25" stroke="#000" stroke-width="1.2"/>
<polyline points="425.00,323.89 443.60,309.55 462.20,264.22 480.80,268.85 499.40,259.60" fill="none" stroke="#000" stroke-width="1.4"/>
<polyline points="425.00,324.35 443.60,312.32 462.20,279.95 480.80,279.95 499.40,272.55" fill="none" stroke="#000" stroke-width="1.4"/>
<rect x="422.10" y="320.99" width="5.80" height="5.80" fill="#000"/>
<rect x="440.70" y="306.65" width="5.80" height="5.80" fill="#000"/>
<rect x="459.30" y="261.32" width="5.80" height="5.80" fill="#000"/>
<rect x="477.90" y="265.95" width="5.80" height="5.80" fill="#000"/>
<rect x="496.50" y="256.70" width="5.80" height="5.80" fill="#000"/>
<circle cx="425.00" cy="324.35" r="2.90" fill="#000"/>
<circle cx="443.60" cy="312.32" r="2.90" fill="#000"/>
<circle cx="462.20" cy="279.95" r="2.90" fill="#000"/>
<circle cx="480.80" cy="279.95" r="2.90" fill="#000"/>
<circle cx="499.40" cy="272.55" r="2.90" fill="#000"/>
<line x1="419.0" y1="238.90" x2="436.6" y2="238.90" stroke="#000" stroke-width="1.3"/>
<rect x="425.20" y="236.40" width="5.00" height="5.00" fill="#000"/>
<text x="439.0" y="241.65" font-size="8.3" fill="#111" textLength="37.0" lengthAdjust="spacingAndGlyphs">CI/NKG2<tspan font-size="5" dy="-2.6">+</tspan></text>
<line x1="419.0" y1="248.30" x2="436.6" y2="248.30" stroke="#000" stroke-width="1.3"/>
<circle cx="427.70" cy="248.30" r="2.50" fill="#000"/>
<text x="439.9" y="251.05" font-size="8.3" fill="#111" textLength="36.1" lengthAdjust="spacingAndGlyphs">CI/NKG2<tspan font-size="5" dy="-2.6">-</tspan></text>
</svg>
</body></html>
